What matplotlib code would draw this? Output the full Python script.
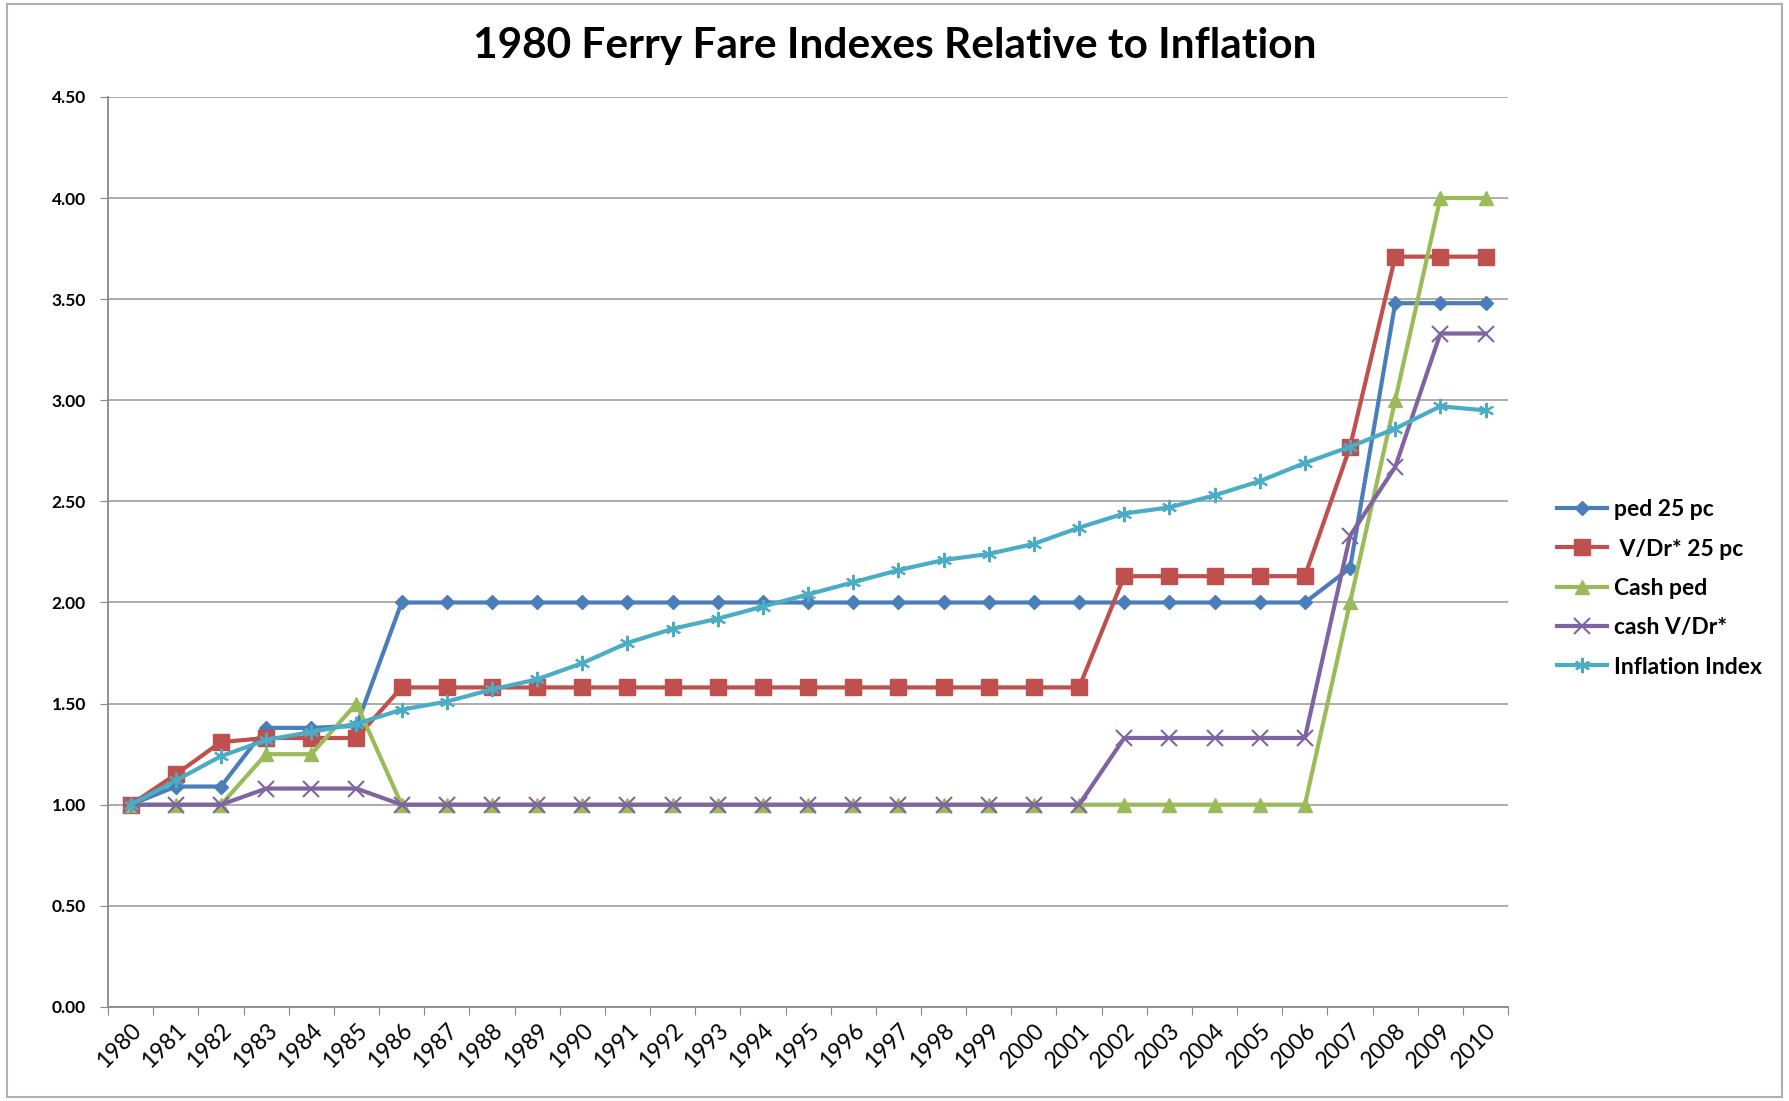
import numpy as np
import matplotlib
matplotlib.use("Agg")
import matplotlib.pyplot as plt
from matplotlib.patches import Rectangle

years = [str(y) for y in range(1980, 2011)]

ped_25 = [1.00, 1.09, 1.09, 1.38, 1.38, 1.39] + [2.00] * 21 + [2.17, 3.48, 3.48, 3.48]
vdr_25 = [1.00, 1.15, 1.31, 1.33, 1.33, 1.33] + [1.58] * 16 + [2.13] * 5 + [2.77, 3.71, 3.71, 3.71]
cash_ped = [1.00, 1.00, 1.00, 1.25, 1.25, 1.50] + [1.00] * 21 + [2.00, 3.00, 4.00, 4.00]
cash_vdr = [1.00, 1.00, 1.00, 1.08, 1.08, 1.08] + [1.00] * 16 + [1.33] * 5 + [2.33, 2.67, 3.33, 3.33]
inflation = [1.00, 1.12, 1.24, 1.32, 1.36, 1.40, 1.47, 1.51, 1.57, 1.62, 1.70, 1.80,
             1.87, 1.92, 1.98, 2.04, 2.10, 2.16, 2.21, 2.24, 2.29, 2.37, 2.44, 2.47,
             2.53, 2.60, 2.69, 2.77, 2.86, 2.97, 2.95]

series = [
    ("ped 25 pc", ped_25, "#4A7EBB", "D", 7),
    (" V/Dr* 25 pc", vdr_25, "#C0504D", "s", 11),
    ("Cash ped", cash_ped, "#9BBB59", "^", 10),
    ("cash V/Dr*", cash_vdr, "#8064A2", "x", 11),
    ("Inflation Index", inflation, "#4BACC6", (6, 2, 0), 11),
]

plt.rcParams["font.family"] = ["Lato", "DejaVu Sans"]

fig = plt.figure(figsize=(17.89, 11.01), dpi=100)
fig.patches.append(Rectangle((0.004, 0.004), 0.992, 0.992, transform=fig.transFigure,
                             fill=False, edgecolor="#b0b0b0", lw=1.5))
ax = fig.add_axes([0.0604, 0.0854, 0.7826, 0.8266])

x = np.arange(len(years))
for lab, vals, col, mk, ms in series:
    mew = 1.5 if mk == "x" or isinstance(mk, tuple) else 1
    ax.plot(x, vals, color=col, lw=3, marker=mk, markersize=ms, markeredgewidth=mew,
            markeredgecolor=col, markerfacecolor=col, label=lab)

ax.set_xlim(-0.5, len(years) - 0.5)
ax.set_ylim(0, 4.5)
yt = np.arange(0, 4.51, 0.5)
ax.set_yticks(yt)
ax.set_yticklabels([f"{v:.2f}" for v in yt], fontsize=12.5, fontweight="bold")
ax.set_xticks(np.arange(-0.5, len(years)), minor=False)
ax.set_xticklabels([])
ax.set_xticks(x, minor=True)
ax.set_xticklabels(years, minor=True, rotation=45, ha="right", rotation_mode="anchor",
                   fontsize=16.5)
ax.tick_params(axis="x", which="minor", length=0, pad=9)
ax.tick_params(axis="x", which="major", length=6, color="#888888")
ax.tick_params(axis="y", length=6, color="#888888", pad=10)

ax.grid(axis="y", color="#a6a6a6", lw=1.3)
ax.set_axisbelow(True)
for s in ["top", "right"]:
    ax.spines[s].set_visible(False)
for s in ["left", "bottom"]:
    ax.spines[s].set_color("#888888")
    ax.spines[s].set_linewidth(1.3)

fig.text(0.5, 0.958, "1980 Ferry Fare Indexes Relative to Inflation", ha="center", va="center",
         fontsize=30.5, fontweight="bold")

ax.legend(loc="center left", bbox_to_anchor=(1.02, 0.46), frameon=False,
          handlelength=2.2, labelspacing=0.8, handletextpad=0.3,
          prop={"weight": "bold", "size": 16.5})

fig.savefig("out.png", dpi=100)
